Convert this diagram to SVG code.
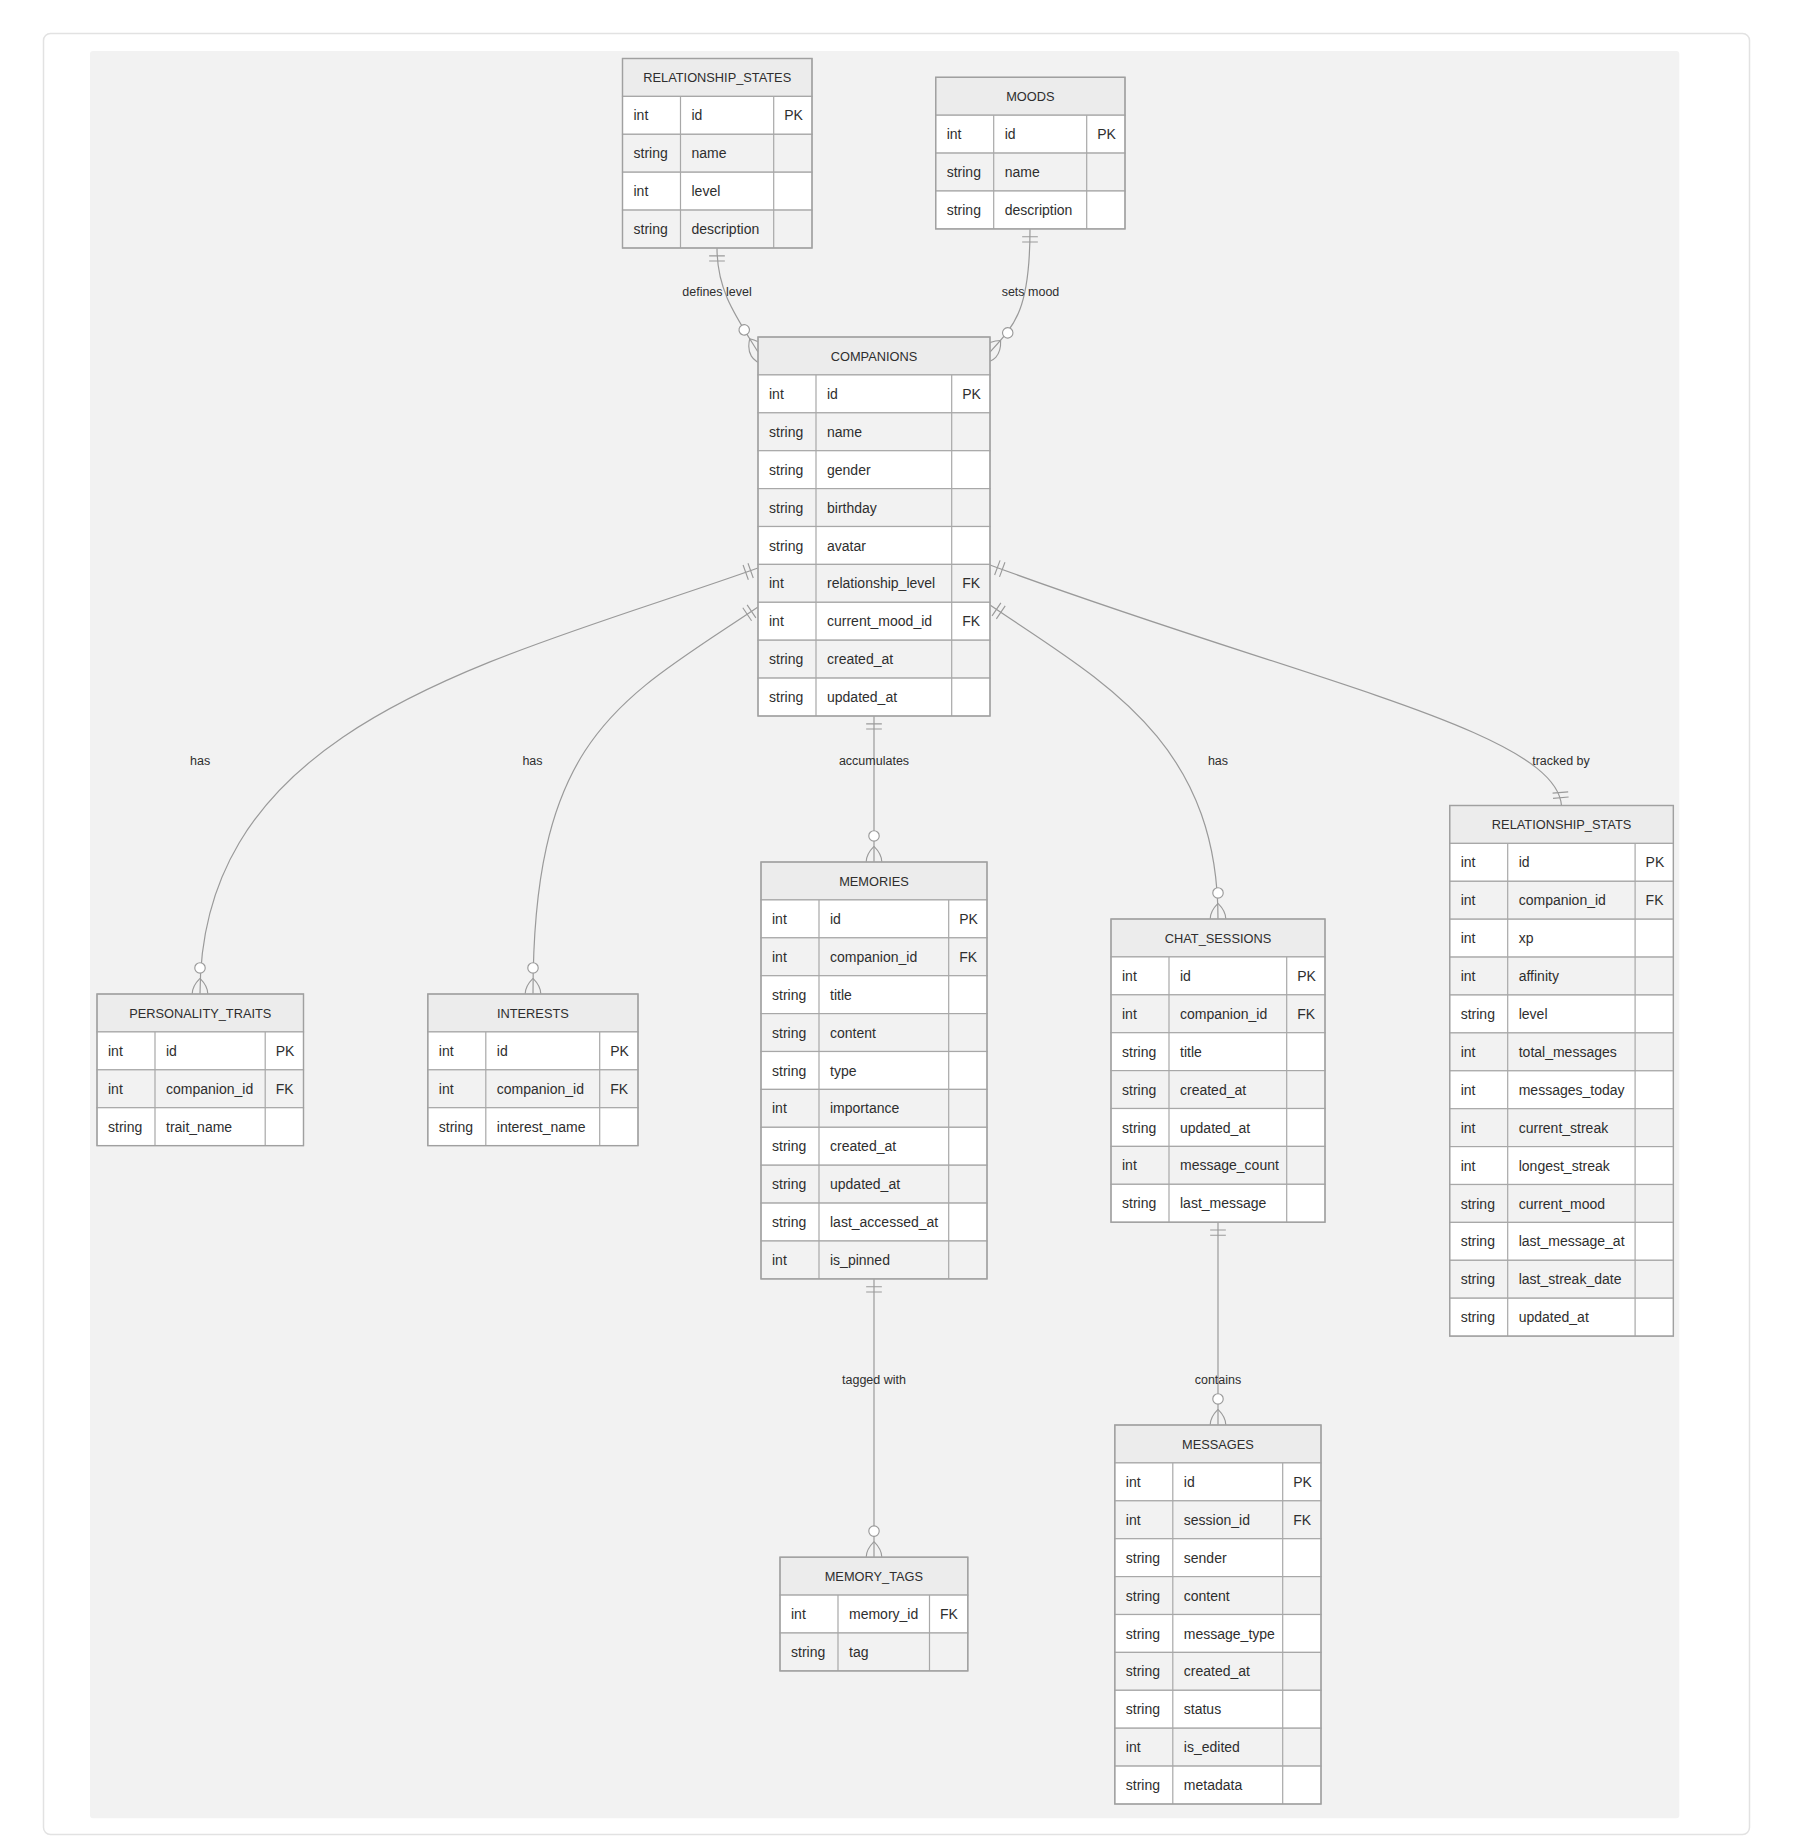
<svg xmlns="http://www.w3.org/2000/svg" width="1794" height="1836" viewBox="0 0 1794 1836" font-family="'Liberation Sans', Arial, sans-serif">
<style>
.hdr{fill:#ececec;stroke:#a8a8a8;stroke-width:1.2}
.ra{fill:#ffffff;stroke:#a8a8a8;stroke-width:1.2}
.rb{fill:#f2f2f2;stroke:#a8a8a8;stroke-width:1.2}
.grid{fill:none;stroke:#a8a8a8;stroke-width:1.2}
.box{fill:none;stroke:#a0a0a0;stroke-width:1.3}
text{fill:#2e2e2e;font-size:14px}
.h{font-size:12.8px;text-anchor:middle}
.conn{fill:none;stroke:#9a9a9a;stroke-width:1.2}
.lbl{font-size:12.5px;text-anchor:middle;fill:#2e2e2e}
.mk{fill:none;stroke:#9a9a9a;stroke-width:1.3}
</style>
<defs>
<marker id="oneStart" markerUnits="userSpaceOnUse" viewBox="0 0 18 18" markerWidth="15.66" markerHeight="15.66" refX="0" refY="9" orient="auto" overflow="visible"><path class="mk" d="M9,0 L9,18 M15,0 L15,18"/></marker>
<marker id="oneEnd" markerUnits="userSpaceOnUse" viewBox="0 0 18 18" markerWidth="15.66" markerHeight="15.66" refX="18" refY="9" orient="auto" overflow="visible"><path class="mk" d="M3,0 L3,18 M9,0 L9,18"/></marker>
<marker id="manyEnd" markerUnits="userSpaceOnUse" viewBox="0 0 57 36" markerWidth="49.6" markerHeight="31.3" refX="39" refY="18" orient="auto" overflow="visible"><circle cx="9" cy="18" r="6" fill="#ffffff" stroke="#9a9a9a" stroke-width="1.3"/><path class="mk" d="M21,18 Q39,0 57,18 Q39,36 21,18"/></marker>
</defs>
<rect x="0" y="0" width="1794" height="1836" fill="#ffffff"/>
<rect x="43.5" y="33.5" width="1706" height="1801" rx="7" fill="#ffffff" stroke="#e2e2e2" stroke-width="1.5"/>
<rect x="90" y="51" width="1589.3" height="1767.3" rx="3" fill="#f2f2f2"/>

<g id="connectors">
<path class="conn" d="M717,248 C717,290 735,315 758,352" marker-start="url(#oneStart)" marker-end="url(#manyEnd)"/>
<path class="conn" d="M1030,228.9 C1030,310 1015,325 990,352" marker-start="url(#oneStart)" marker-end="url(#manyEnd)"/>
<path class="conn" d="M758,568 C500,660 200,720 200,994" marker-start="url(#oneStart)" marker-end="url(#manyEnd)"/>
<path class="conn" d="M758,607 C620,700 533,735 533,994" marker-start="url(#oneStart)" marker-end="url(#manyEnd)"/>
<path class="conn" d="M874,716 L874,862" marker-start="url(#oneStart)" marker-end="url(#manyEnd)"/>
<path class="conn" d="M990,605 C1100,680 1218,740 1218,919" marker-start="url(#oneStart)" marker-end="url(#manyEnd)"/>
<path class="conn" d="M990,565 C1300,680 1555,730 1561.5,805.5" marker-start="url(#oneStart)" marker-end="url(#oneEnd)"/>
<path class="conn" d="M874,1278.9 L874,1557.2" marker-start="url(#oneStart)" marker-end="url(#manyEnd)"/>
<path class="conn" d="M1218,1222.2 L1218,1425" marker-start="url(#oneStart)" marker-end="url(#manyEnd)"/>
<text class="lbl" x="717" y="296">defines level</text>
<text class="lbl" x="1030.5" y="296">sets mood</text>
<text class="lbl" x="200.2" y="765">has</text>
<text class="lbl" x="532.5" y="765">has</text>
<text class="lbl" x="874" y="765">accumulates</text>
<text class="lbl" x="1218" y="765">has</text>
<text class="lbl" x="1561" y="765">tracked by</text>
<text class="lbl" x="874" y="1384">tagged with</text>
<text class="lbl" x="1218" y="1384">contains</text>
</g>

<g id="relationship_states" transform="translate(622.5,58.5)">
<rect class="hdr" width="189.5" height="37.9"/>
<text class="h" x="94.75" y="23.5">RELATIONSHIP_STATES</text>
<rect class="ra" y="37.9" width="189.5" height="37.9"/>
<rect class="rb" y="75.8" width="189.5" height="37.9"/>
<rect class="ra" y="113.7" width="189.5" height="37.9"/>
<rect class="rb" y="151.6" width="189.5" height="37.9"/>
<path class="grid" d="M58,37.9V189.5M151.2,37.9V189.5"/>
<rect class="box" width="189.5" height="189.5"/>
<text x="11" y="61.9">int</text><text x="69" y="61.9">id</text><text x="161.7" y="61.9">PK</text>
<text x="11" y="99.8">string</text><text x="69" y="99.8">name</text>
<text x="11" y="137.7">int</text><text x="69" y="137.7">level</text>
<text x="11" y="175.6">string</text><text x="69" y="175.6">description</text>
</g>

<g id="moods" transform="translate(935.7,77.3)">
<rect class="hdr" width="189.3" height="37.9"/>
<text class="h" x="94.65" y="23.5">MOODS</text>
<rect class="ra" y="37.9" width="189.3" height="37.9"/>
<rect class="rb" y="75.8" width="189.3" height="37.9"/>
<rect class="ra" y="113.7" width="189.3" height="37.9"/>
<path class="grid" d="M58,37.9V151.6M151,37.9V151.6"/>
<rect class="box" width="189.3" height="151.6"/>
<text x="11" y="61.9">int</text><text x="69" y="61.9">id</text><text x="161.5" y="61.9">PK</text>
<text x="11" y="99.8">string</text><text x="69" y="99.8">name</text>
<text x="11" y="137.7">string</text><text x="69" y="137.7">description</text>
</g>

<g id="companions" transform="translate(758,337)">
<rect class="hdr" width="232" height="37.9"/>
<text class="h" x="116" y="23.5">COMPANIONS</text>
<rect class="ra" y="37.9" width="232" height="37.9"/>
<rect class="rb" y="75.8" width="232" height="37.9"/>
<rect class="ra" y="113.7" width="232" height="37.9"/>
<rect class="rb" y="151.6" width="232" height="37.9"/>
<rect class="ra" y="189.5" width="232" height="37.9"/>
<rect class="rb" y="227.4" width="232" height="37.9"/>
<rect class="ra" y="265.3" width="232" height="37.9"/>
<rect class="rb" y="303.2" width="232" height="37.9"/>
<rect class="ra" y="341.1" width="232" height="37.9"/>
<path class="grid" d="M58,37.9V379M193.7,37.9V379"/>
<rect class="box" width="232" height="379"/>
<text x="11" y="61.9">int</text><text x="69" y="61.9">id</text><text x="204.2" y="61.9">PK</text>
<text x="11" y="99.8">string</text><text x="69" y="99.8">name</text>
<text x="11" y="137.7">string</text><text x="69" y="137.7">gender</text>
<text x="11" y="175.6">string</text><text x="69" y="175.6">birthday</text>
<text x="11" y="213.5">string</text><text x="69" y="213.5">avatar</text>
<text x="11" y="251.4">int</text><text x="69" y="251.4">relationship_level</text><text x="204.2" y="251.4">FK</text>
<text x="11" y="289.3">int</text><text x="69" y="289.3">current_mood_id</text><text x="204.2" y="289.3">FK</text>
<text x="11" y="327.2">string</text><text x="69" y="327.2">created_at</text>
<text x="11" y="365.1">string</text><text x="69" y="365.1">updated_at</text>
</g>

<g id="memories" transform="translate(761,862)">
<rect class="hdr" width="226" height="37.9"/>
<text class="h" x="113" y="23.5">MEMORIES</text>
<rect class="ra" y="37.9" width="226" height="37.9"/>
<rect class="rb" y="75.8" width="226" height="37.9"/>
<rect class="ra" y="113.7" width="226" height="37.9"/>
<rect class="rb" y="151.6" width="226" height="37.9"/>
<rect class="ra" y="189.5" width="226" height="37.9"/>
<rect class="rb" y="227.4" width="226" height="37.9"/>
<rect class="ra" y="265.3" width="226" height="37.9"/>
<rect class="rb" y="303.2" width="226" height="37.9"/>
<rect class="ra" y="341.1" width="226" height="37.9"/>
<rect class="rb" y="379" width="226" height="37.9"/>
<path class="grid" d="M58,37.9V416.9M187.7,37.9V416.9"/>
<rect class="box" width="226" height="416.9"/>
<text x="11" y="61.9">int</text><text x="69" y="61.9">id</text><text x="198.2" y="61.9">PK</text>
<text x="11" y="99.8">int</text><text x="69" y="99.8">companion_id</text><text x="198.2" y="99.8">FK</text>
<text x="11" y="137.7">string</text><text x="69" y="137.7">title</text>
<text x="11" y="175.6">string</text><text x="69" y="175.6">content</text>
<text x="11" y="213.5">string</text><text x="69" y="213.5">type</text>
<text x="11" y="251.4">int</text><text x="69" y="251.4">importance</text>
<text x="11" y="289.3">string</text><text x="69" y="289.3">created_at</text>
<text x="11" y="327.2">string</text><text x="69" y="327.2">updated_at</text>
<text x="11" y="365.1">string</text><text x="69" y="365.1">last_accessed_at</text>
<text x="11" y="403">int</text><text x="69" y="403">is_pinned</text>
</g>

<g id="personality_traits" transform="translate(97,994)">
<rect class="hdr" width="206.5" height="37.9"/>
<text class="h" x="103.25" y="23.5">PERSONALITY_TRAITS</text>
<rect class="ra" y="37.9" width="206.5" height="37.9"/>
<rect class="rb" y="75.8" width="206.5" height="37.9"/>
<rect class="ra" y="113.7" width="206.5" height="37.9"/>
<path class="grid" d="M58,37.9V151.6M168.2,37.9V151.6"/>
<rect class="box" width="206.5" height="151.6"/>
<text x="11" y="61.9">int</text><text x="69" y="61.9">id</text><text x="178.7" y="61.9">PK</text>
<text x="11" y="99.8">int</text><text x="69" y="99.8">companion_id</text><text x="178.7" y="99.8">FK</text>
<text x="11" y="137.7">string</text><text x="69" y="137.7">trait_name</text>
</g>

<g id="interests" transform="translate(427.8,994)">
<rect class="hdr" width="210.2" height="37.9"/>
<text class="h" x="105.1" y="23.5">INTERESTS</text>
<rect class="ra" y="37.9" width="210.2" height="37.9"/>
<rect class="rb" y="75.8" width="210.2" height="37.9"/>
<rect class="ra" y="113.7" width="210.2" height="37.9"/>
<path class="grid" d="M58,37.9V151.6M171.9,37.9V151.6"/>
<rect class="box" width="210.2" height="151.6"/>
<text x="11" y="61.9">int</text><text x="69" y="61.9">id</text><text x="182.4" y="61.9">PK</text>
<text x="11" y="99.8">int</text><text x="69" y="99.8">companion_id</text><text x="182.4" y="99.8">FK</text>
<text x="11" y="137.7">string</text><text x="69" y="137.7">interest_name</text>
</g>

<g id="chat_sessions" transform="translate(1111,919)">
<rect class="hdr" width="214" height="37.9"/>
<text class="h" x="107" y="23.5">CHAT_SESSIONS</text>
<rect class="ra" y="37.9" width="214" height="37.9"/>
<rect class="rb" y="75.8" width="214" height="37.9"/>
<rect class="ra" y="113.7" width="214" height="37.9"/>
<rect class="rb" y="151.6" width="214" height="37.9"/>
<rect class="ra" y="189.5" width="214" height="37.9"/>
<rect class="rb" y="227.4" width="214" height="37.9"/>
<rect class="ra" y="265.3" width="214" height="37.9"/>
<path class="grid" d="M58,37.9V303.2M175.7,37.9V303.2"/>
<rect class="box" width="214" height="303.2"/>
<text x="11" y="61.9">int</text><text x="69" y="61.9">id</text><text x="186.2" y="61.9">PK</text>
<text x="11" y="99.8">int</text><text x="69" y="99.8">companion_id</text><text x="186.2" y="99.8">FK</text>
<text x="11" y="137.7">string</text><text x="69" y="137.7">title</text>
<text x="11" y="175.6">string</text><text x="69" y="175.6">created_at</text>
<text x="11" y="213.5">string</text><text x="69" y="213.5">updated_at</text>
<text x="11" y="251.4">int</text><text x="69" y="251.4">message_count</text>
<text x="11" y="289.3">string</text><text x="69" y="289.3">last_message</text>
</g>

<g id="relationship_stats" transform="translate(1449.7,805.5)">
<rect class="hdr" width="223.7" height="37.9"/>
<text class="h" x="111.85" y="23.5">RELATIONSHIP_STATS</text>
<rect class="ra" y="37.9" width="223.7" height="37.9"/>
<rect class="rb" y="75.8" width="223.7" height="37.9"/>
<rect class="ra" y="113.7" width="223.7" height="37.9"/>
<rect class="rb" y="151.6" width="223.7" height="37.9"/>
<rect class="ra" y="189.5" width="223.7" height="37.9"/>
<rect class="rb" y="227.4" width="223.7" height="37.9"/>
<rect class="ra" y="265.3" width="223.7" height="37.9"/>
<rect class="rb" y="303.2" width="223.7" height="37.9"/>
<rect class="ra" y="341.1" width="223.7" height="37.9"/>
<rect class="rb" y="379" width="223.7" height="37.9"/>
<rect class="ra" y="416.9" width="223.7" height="37.9"/>
<rect class="rb" y="454.8" width="223.7" height="37.9"/>
<rect class="ra" y="492.7" width="223.7" height="37.9"/>
<path class="grid" d="M58,37.9V530.6M185.4,37.9V530.6"/>
<rect class="box" width="223.7" height="530.6"/>
<text x="11" y="61.9">int</text><text x="69" y="61.9">id</text><text x="195.9" y="61.9">PK</text>
<text x="11" y="99.8">int</text><text x="69" y="99.8">companion_id</text><text x="195.9" y="99.8">FK</text>
<text x="11" y="137.7">int</text><text x="69" y="137.7">xp</text>
<text x="11" y="175.6">int</text><text x="69" y="175.6">affinity</text>
<text x="11" y="213.5">string</text><text x="69" y="213.5">level</text>
<text x="11" y="251.4">int</text><text x="69" y="251.4">total_messages</text>
<text x="11" y="289.3">int</text><text x="69" y="289.3">messages_today</text>
<text x="11" y="327.2">int</text><text x="69" y="327.2">current_streak</text>
<text x="11" y="365.1">int</text><text x="69" y="365.1">longest_streak</text>
<text x="11" y="403">string</text><text x="69" y="403">current_mood</text>
<text x="11" y="440.9">string</text><text x="69" y="440.9">last_message_at</text>
<text x="11" y="478.8">string</text><text x="69" y="478.8">last_streak_date</text>
<text x="11" y="516.7">string</text><text x="69" y="516.7">updated_at</text>
</g>

<g id="messages" transform="translate(1114.8,1425)">
<rect class="hdr" width="206.2" height="37.9"/>
<text class="h" x="103.1" y="23.5">MESSAGES</text>
<rect class="ra" y="37.9" width="206.2" height="37.9"/>
<rect class="rb" y="75.8" width="206.2" height="37.9"/>
<rect class="ra" y="113.7" width="206.2" height="37.9"/>
<rect class="rb" y="151.6" width="206.2" height="37.9"/>
<rect class="ra" y="189.5" width="206.2" height="37.9"/>
<rect class="rb" y="227.4" width="206.2" height="37.9"/>
<rect class="ra" y="265.3" width="206.2" height="37.9"/>
<rect class="rb" y="303.2" width="206.2" height="37.9"/>
<rect class="ra" y="341.1" width="206.2" height="37.9"/>
<path class="grid" d="M58,37.9V379M167.9,37.9V379"/>
<rect class="box" width="206.2" height="379"/>
<text x="11" y="61.9">int</text><text x="69" y="61.9">id</text><text x="178.4" y="61.9">PK</text>
<text x="11" y="99.8">int</text><text x="69" y="99.8">session_id</text><text x="178.4" y="99.8">FK</text>
<text x="11" y="137.7">string</text><text x="69" y="137.7">sender</text>
<text x="11" y="175.6">string</text><text x="69" y="175.6">content</text>
<text x="11" y="213.5">string</text><text x="69" y="213.5">message_type</text>
<text x="11" y="251.4">string</text><text x="69" y="251.4">created_at</text>
<text x="11" y="289.3">string</text><text x="69" y="289.3">status</text>
<text x="11" y="327.2">int</text><text x="69" y="327.2">is_edited</text>
<text x="11" y="365.1">string</text><text x="69" y="365.1">metadata</text>
</g>

<g id="memory_tags" transform="translate(780,1557.2)">
<rect class="hdr" width="187.8" height="37.9"/>
<text class="h" x="93.9" y="23.5">MEMORY_TAGS</text>
<rect class="ra" y="37.9" width="187.8" height="37.9"/>
<rect class="rb" y="75.8" width="187.8" height="37.9"/>
<path class="grid" d="M58,37.9V113.7M149.5,37.9V113.7"/>
<rect class="box" width="187.8" height="113.7"/>
<text x="11" y="61.9">int</text><text x="69" y="61.9">memory_id</text><text x="160" y="61.9">FK</text>
<text x="11" y="99.8">string</text><text x="69" y="99.8">tag</text>
</g>
</svg>
